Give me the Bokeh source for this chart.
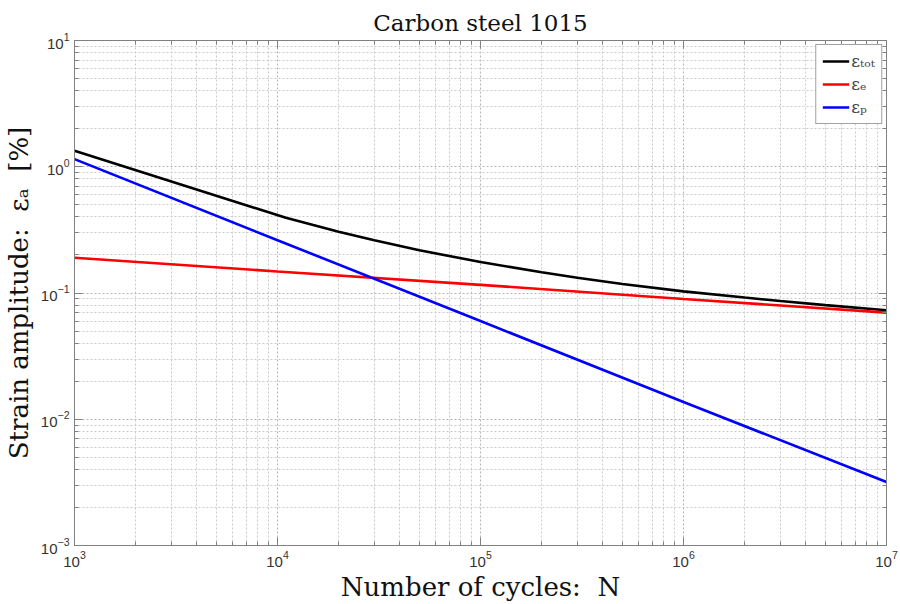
import numpy as np
from bokeh.plotting import figure
from bokeh.models import (LogAxis, FixedTicker, LogTickFormatter, CustomJSTickFormatter,
                          Legend, LegendItem, ColumnDataSource)
from bokeh.embed import file_html
from bokeh.resources import INLINE

# Data
cycles = [1e3, 1e4, 1e5, 1e6, 1e7]
eps_e = [0.190, 0.148, 0.116, 0.0896, 0.0699]
eps_p = [1.15, 0.262, 0.0600, 0.0137, 0.00318]
# total strain curve, read at finer spacing (kink visible near 1e4)
cycles_tot = [1e3, 1.1e4, 1.5e4, 2e4, 3e4, 5e4, 1e5, 2e5, 3e5, 5e5, 1e6, 2e6, 3e6, 5e6, 1e7]
eps_tot = [1.34, 0.394, 0.345, 0.306, 0.262, 0.218, 0.176, 0.146, 0.132, 0.118,
           0.103, 0.092, 0.0864, 0.0802, 0.0731]

x_major = [1e3, 1e4, 1e5, 1e6, 1e7]
y_major = [1e-3, 1e-2, 1e-1, 1e0, 1e1]
x_minor = [m * 10.0**d for d in range(3, 7) for m in range(2, 10)]
y_minor = [m * 10.0**d for d in range(-3, 1) for m in range(2, 10)]

SERIF = "DejaVu Serif"
SANS = "Liberation Sans"
AX = "#808080"
NB = "\u00a0"

p = figure(width=900, height=604, x_axis_type="log", y_axis_type="log",
           x_range=(1e3, 1e7), y_range=(1e-3, 1e1),
           output_backend="svg", toolbar_location=None,
           min_border_left=74, min_border_right=14, min_border_top=40, min_border_bottom=59,
           title="Carbon steel 1015")
p.title.align = "center"
p.title.text_font = SERIF
p.title.text_font_size = "23px"
p.title.text_font_style = "normal"
p.title.text_color = "#111111"
p.title.offset = 0
p.background_fill_color = "white"
p.border_fill_color = "white"
p.outline_line_color = AX

xt = FixedTicker(ticks=x_major, minor_ticks=x_minor)
yt = FixedTicker(ticks=y_major, minor_ticks=y_minor)

for ax, tk in ((p.xaxis[0], xt), (p.yaxis[0], yt)):
    ax.ticker = tk
    ax.formatter = LogTickFormatter()
    ax.axis_line_color = AX
    ax.major_tick_line_color = AX
    ax.minor_tick_line_color = AX
    ax.major_tick_in = 8
    ax.major_tick_out = 0
    ax.minor_tick_in = 4
    ax.minor_tick_out = 0
    ax.major_label_text_font = SANS
    ax.major_label_text_font_size = "15px"
    ax.major_label_text_color = "#333333"
    ax.axis_label_text_font = SERIF
    ax.axis_label_text_font_size = "26px"
    ax.axis_label_text_font_style = "normal"
    ax.axis_label_text_color = "#111111"

p.xaxis.axis_label = "Number of cycles:" + NB + NB + "N"
p.yaxis.axis_label = "Strain amplitude:" + NB + NB + "\u03b5\u2090" + NB + NB + "[%]"
p.xaxis.major_label_standoff = 5
p.yaxis.major_label_standoff = 5
p.xaxis.axis_label_standoff = 2
p.yaxis.axis_label_standoff = 4

empty = CustomJSTickFormatter(code="return ''")
for loc, tk in (("above", xt), ("right", yt)):
    a = LogAxis(ticker=tk, formatter=empty, axis_line_color=AX,
                major_tick_line_color=AX, minor_tick_line_color=AX,
                major_tick_in=8, major_tick_out=0, minor_tick_in=4, minor_tick_out=0,
                major_label_standoff=0)
    p.add_layout(a, loc)

for g in (p.xgrid[0], p.ygrid[0]):
    g.grid_line_color = "#b4b4b4"
    g.grid_line_dash = "2 2"
    g.grid_line_width = 1
    g.minor_grid_line_color = "#cacaca"
    g.minor_grid_line_dash = "2 2"
    g.minor_grid_line_width = 1

src = ColumnDataSource(dict(n=cycles, e=eps_e, pl=eps_p))
src_tot = ColumnDataSource(dict(n=cycles_tot, tot=eps_tot))
r_tot = p.line("n", "tot", source=src_tot, line_color="black", line_width=2.6)
r_e = p.line("n", "e", source=src, line_color="#ff0000", line_width=2.6)
r_p = p.line("n", "pl", source=src, line_color="#0000ff", line_width=2.6)

legend = Legend(items=[
    LegendItem(label="\u03b5\u209c\u2092\u209c", renderers=[r_tot]),
    LegendItem(label="\u03b5\u2091", renderers=[r_e]),
    LegendItem(label="\u03b5\u209a", renderers=[r_p]),
], location="top_right")
legend.label_text_font = SERIF
legend.label_text_font_size = "17px"
legend.glyph_width = 27
legend.glyph_height = 16
legend.label_standoff = 2
legend.spacing = 3
legend.padding = 6
legend.margin = 4
legend.border_line_color = "#444444"
legend.border_line_width = 1
legend.background_fill_alpha = 1
p.add_layout(legend)

open("out.html", "w").write(file_html(p, INLINE))
